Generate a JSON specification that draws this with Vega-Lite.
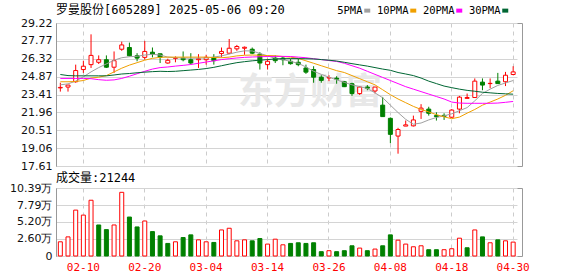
{
 "$schema": "https://vega.github.io/schema/vega-lite/v6.json",
 "autosize": {"type": "pad"},
 "padding": {"left": 9, "top": 3, "right": 0, "bottom": 0},
 "background": "white",
 "spacing": 22,
 "bounds": "flush",
 "datasets": {
  "wm": [{"d": "2025-03-21", "p": 23.54, "t": "东方财富"}],
  "k": [
   {"d":"2025-02-05","o":23.95,"h":24.37,"l":23.65,"c":23.99,"v":2.17,"vu":1,"ma5":24.20,"ma10":24.45,"ma20":24.72,"ma30":25.04},
   {"d":"2025-02-06","o":24.02,"h":24.20,"l":23.65,"c":24.18,"v":2.92,"vu":1,"ma5":24.28,"ma10":24.45,"ma20":24.72,"ma30":24.95},
   {"d":"2025-02-07","o":24.45,"h":25.84,"l":24.37,"c":25.36,"v":7.01,"vu":1,"ma5":24.50,"ma10":24.47,"ma20":24.72,"ma30":24.93},
   {"d":"2025-02-10","o":25.44,"h":26.16,"l":25.17,"c":25.71,"v":6.25,"vu":1,"ma5":24.85,"ma10":24.55,"ma20":24.72,"ma30":24.93},
   {"d":"2025-02-11","o":25.84,"h":28.30,"l":25.57,"c":26.59,"v":8.52,"vu":1,"ma5":25.25,"ma10":24.75,"ma20":24.70,"ma30":24.93},
   {"d":"2025-02-12","o":26.03,"h":26.59,"l":25.89,"c":26.24,"v":4.74,"vu":0,"ma5":25.60,"ma10":24.82,"ma20":24.62,"ma30":24.93},
   {"d":"2025-02-13","o":26.24,"h":26.59,"l":25.57,"c":25.63,"v":4.03,"vu":0,"ma5":25.90,"ma10":24.95,"ma20":24.57,"ma30":24.93},
   {"d":"2025-02-14","o":25.63,"h":26.91,"l":25.17,"c":26.16,"v":4.74,"vu":1,"ma5":26.20,"ma10":25.25,"ma20":24.60,"ma30":25.00},
   {"d":"2025-02-17","o":27.09,"h":27.71,"l":26.96,"c":27.44,"v":9.73,"vu":1,"ma5":26.40,"ma10":25.55,"ma20":24.72,"ma30":25.08},
   {"d":"2025-02-18","o":27.23,"h":27.63,"l":26.51,"c":26.56,"v":5.95,"vu":0,"ma5":26.48,"ma10":25.80,"ma20":24.90,"ma30":25.12},
   {"d":"2025-02-19","o":26.56,"h":26.77,"l":26.11,"c":26.37,"v":4.44,"vu":0,"ma5":26.52,"ma10":26.00,"ma20":25.10,"ma30":25.18},
   {"d":"2025-02-20","o":26.43,"h":27.76,"l":26.24,"c":26.91,"v":5.35,"vu":1,"ma5":26.62,"ma10":26.20,"ma20":25.30,"ma30":25.23},
   {"d":"2025-02-21","o":26.85,"h":27.23,"l":26.43,"c":26.69,"v":3.73,"vu":0,"ma5":26.68,"ma10":26.35,"ma20":25.48,"ma30":25.27},
   {"d":"2025-02-24","o":26.72,"h":26.72,"l":25.97,"c":26.45,"v":3.08,"vu":0,"ma5":26.62,"ma10":26.43,"ma20":25.60,"ma30":25.30},
   {"d":"2025-02-25","o":25.97,"h":26.32,"l":25.92,"c":26.19,"v":1.92,"vu":0,"ma5":26.45,"ma10":26.45,"ma20":25.65,"ma30":25.28},
   {"d":"2025-02-26","o":26.35,"h":26.51,"l":26.03,"c":26.38,"v":2.17,"vu":1,"ma5":26.40,"ma10":26.45,"ma20":25.72,"ma30":25.30},
   {"d":"2025-02-27","o":26.37,"h":26.91,"l":26.11,"c":26.24,"v":2.82,"vu":0,"ma5":26.38,"ma10":26.45,"ma20":25.78,"ma30":25.35},
   {"d":"2025-02-28","o":26.24,"h":26.77,"l":25.84,"c":25.97,"v":3.23,"vu":0,"ma5":26.36,"ma10":26.45,"ma20":25.85,"ma30":25.40},
   {"d":"2025-03-03","o":26.24,"h":26.69,"l":25.57,"c":26.32,"v":2.47,"vu":1,"ma5":26.37,"ma10":26.45,"ma20":25.95,"ma30":25.45},
   {"d":"2025-03-04","o":26.24,"h":26.64,"l":25.84,"c":26.43,"v":2.17,"vu":1,"ma5":26.38,"ma10":26.45,"ma20":26.05,"ma30":25.52},
   {"d":"2025-03-05","o":26.43,"h":26.69,"l":25.84,"c":26.16,"v":2.07,"vu":0,"ma5":26.45,"ma10":26.42,"ma20":26.15,"ma30":25.62},
   {"d":"2025-03-06","o":26.75,"h":27.23,"l":26.43,"c":26.91,"v":3.98,"vu":1,"ma5":26.55,"ma10":26.40,"ma20":26.25,"ma30":25.75},
   {"d":"2025-03-07","o":26.77,"h":27.92,"l":26.69,"c":27.17,"v":4.24,"vu":1,"ma5":26.70,"ma10":26.45,"ma20":26.32,"ma30":25.88},
   {"d":"2025-03-10","o":27.12,"h":27.44,"l":26.96,"c":27.31,"v":2.32,"vu":1,"ma5":26.85,"ma10":26.55,"ma20":26.38,"ma30":26.00},
   {"d":"2025-03-11","o":27.17,"h":27.31,"l":26.64,"c":27.25,"v":2.47,"vu":1,"ma5":26.96,"ma10":26.60,"ma20":26.43,"ma30":26.08},
   {"d":"2025-03-12","o":27.09,"h":27.23,"l":26.69,"c":26.77,"v":2.32,"vu":0,"ma5":26.95,"ma10":26.62,"ma20":26.46,"ma30":26.15},
   {"d":"2025-03-13","o":26.69,"h":26.85,"l":25.44,"c":25.97,"v":2.67,"vu":0,"ma5":26.75,"ma10":26.60,"ma20":26.48,"ma30":26.20},
   {"d":"2025-03-14","o":25.84,"h":26.32,"l":25.44,"c":26.11,"v":1.82,"vu":1,"ma5":26.55,"ma10":26.58,"ma20":26.50,"ma30":26.25},
   {"d":"2025-03-17","o":26.37,"h":26.59,"l":25.97,"c":26.16,"v":2.57,"vu":1,"ma5":26.35,"ma10":26.56,"ma20":26.51,"ma30":26.30},
   {"d":"2025-03-18","o":26.37,"h":26.51,"l":25.79,"c":26.24,"v":1.71,"vu":1,"ma5":26.25,"ma10":26.50,"ma20":26.51,"ma30":26.32},
   {"d":"2025-03-19","o":26.11,"h":26.32,"l":25.84,"c":25.92,"v":1.92,"vu":0,"ma5":26.10,"ma10":26.45,"ma20":26.50,"ma30":26.33},
   {"d":"2025-03-20","o":26.03,"h":26.32,"l":25.71,"c":25.84,"v":2.02,"vu":0,"ma5":25.95,"ma10":26.35,"ma20":26.45,"ma30":26.33},
   {"d":"2025-03-21","o":25.57,"h":25.84,"l":25.09,"c":25.23,"v":1.92,"vu":0,"ma5":25.65,"ma10":26.15,"ma20":26.40,"ma30":26.32},
   {"d":"2025-03-24","o":25.44,"h":25.71,"l":24.37,"c":24.82,"v":2.02,"vu":0,"ma5":25.30,"ma10":25.95,"ma20":26.32,"ma30":26.30},
   {"d":"2025-03-25","o":24.82,"h":24.98,"l":24.37,"c":24.56,"v":0.66,"vu":0,"ma5":25.05,"ma10":25.75,"ma20":26.25,"ma30":26.25},
   {"d":"2025-03-26","o":24.76,"h":24.98,"l":24.50,"c":24.78,"v":0.81,"vu":1,"ma5":24.82,"ma10":25.55,"ma20":26.17,"ma30":26.20},
   {"d":"2025-03-27","o":24.74,"h":24.90,"l":24.29,"c":24.66,"v":0.66,"vu":0,"ma5":24.60,"ma10":25.35,"ma20":26.10,"ma30":26.13},
   {"d":"2025-03-28","o":24.45,"h":24.50,"l":24.02,"c":24.05,"v":0.81,"vu":0,"ma5":24.40,"ma10":25.20,"ma20":25.95,"ma30":26.03},
   {"d":"2025-03-31","o":24.29,"h":24.37,"l":23.30,"c":23.49,"v":1.56,"vu":0,"ma5":24.20,"ma10":24.95,"ma20":25.75,"ma30":25.92},
   {"d":"2025-04-01","o":23.49,"h":24.10,"l":23.38,"c":24.02,"v":1.21,"vu":1,"ma5":24.05,"ma10":24.70,"ma20":25.55,"ma30":25.82},
   {"d":"2025-04-02","o":24.02,"h":24.18,"l":23.76,"c":23.92,"v":0.81,"vu":0,"ma5":23.90,"ma10":24.45,"ma20":25.30,"ma30":25.72},
   {"d":"2025-04-03","o":23.70,"h":24.02,"l":23.49,"c":24.02,"v":1.06,"vu":1,"ma5":23.55,"ma10":24.20,"ma20":25.05,"ma30":25.60},
   {"d":"2025-04-07","o":22.55,"h":23.22,"l":21.62,"c":21.62,"v":1.56,"vu":0,"ma5":23.15,"ma10":23.80,"ma20":24.80,"ma30":25.48},
   {"d":"2025-04-08","o":21.48,"h":21.55,"l":19.46,"c":20.18,"v":3.23,"vu":0,"ma5":22.55,"ma10":23.40,"ma20":24.55,"ma30":25.38},
   {"d":"2025-04-09","o":20.04,"h":20.71,"l":18.61,"c":20.57,"v":2.42,"vu":1,"ma5":21.95,"ma10":23.05,"ma20":24.30,"ma30":25.20},
   {"d":"2025-04-10","o":20.85,"h":21.30,"l":20.85,"c":20.95,"v":1.82,"vu":1,"ma5":21.40,"ma10":22.75,"ma20":24.05,"ma30":25.08},
   {"d":"2025-04-11","o":20.87,"h":21.70,"l":20.82,"c":21.35,"v":1.41,"vu":1,"ma5":21.00,"ma10":22.45,"ma20":23.85,"ma30":24.95},
   {"d":"2025-04-14","o":22.05,"h":22.63,"l":21.43,"c":22.31,"v":1.56,"vu":1,"ma5":21.10,"ma10":22.20,"ma20":23.65,"ma30":24.75},
   {"d":"2025-04-15","o":22.23,"h":22.42,"l":21.70,"c":21.89,"v":0.96,"vu":0,"ma5":21.35,"ma10":22.00,"ma20":23.45,"ma30":24.50},
   {"d":"2025-04-16","o":21.70,"h":21.97,"l":21.30,"c":21.62,"v":0.96,"vu":0,"ma5":21.55,"ma10":21.78,"ma20":23.25,"ma30":24.30},
   {"d":"2025-04-17","o":21.72,"h":21.89,"l":21.35,"c":21.64,"v":0.96,"vu":1,"ma5":21.68,"ma10":21.60,"ma20":23.05,"ma30":24.10},
   {"d":"2025-04-18","o":21.57,"h":22.23,"l":21.51,"c":22.15,"v":1.11,"vu":1,"ma5":21.85,"ma10":21.45,"ma20":22.80,"ma30":23.97},
   {"d":"2025-04-21","o":22.23,"h":23.30,"l":21.89,"c":23.20,"v":2.72,"vu":1,"ma5":22.10,"ma10":21.58,"ma20":22.72,"ma30":23.85},
   {"d":"2025-04-22","o":23.10,"h":23.49,"l":23.10,"c":23.17,"v":1.26,"vu":0,"ma5":22.35,"ma10":21.90,"ma20":22.70,"ma30":23.75},
   {"d":"2025-04-23","o":23.17,"h":24.72,"l":23.17,"c":24.50,"v":3.98,"vu":1,"ma5":22.90,"ma10":22.20,"ma20":22.70,"ma30":23.68},
   {"d":"2025-04-24","o":24.42,"h":24.72,"l":23.76,"c":24.18,"v":2.92,"vu":0,"ma5":23.50,"ma10":22.55,"ma20":22.70,"ma30":23.60},
   {"d":"2025-04-25","o":24.30,"h":24.72,"l":23.92,"c":24.32,"v":2.02,"vu":1,"ma5":23.85,"ma10":22.80,"ma20":22.70,"ma30":23.55},
   {"d":"2025-04-28","o":24.50,"h":25.17,"l":24.28,"c":24.30,"v":2.47,"vu":0,"ma5":24.15,"ma10":23.05,"ma20":22.72,"ma30":23.50},
   {"d":"2025-04-29","o":24.45,"h":25.25,"l":24.10,"c":24.98,"v":2.32,"vu":1,"ma5":24.35,"ma10":23.35,"ma20":22.78,"ma30":23.47},
   {"d":"2025-04-30","o":25.04,"h":25.71,"l":24.98,"c":25.25,"v":2.1244,"vu":1,"ma5":24.55,"ma10":23.72,"ma20":22.85,"ma30":23.44}
  ]
 },
 "config": {
  "view": {"stroke": "#999999", "strokeWidth": 1},
  "axis": {"domain": false, "ticks": false, "gridColor": "#d4d4d4", "gridWidth": 1, "labelFont": "DejaVu Sans", "labelFontSize": 11, "labelColor": "#111111", "labelPadding": 4, "labelOverlap": false}
 },
 "vconcat": [
  {
   "width": 466,
   "height": 143,
   "title": {"text": "罗曼股份[605289] 2025-05-06 09:20", "anchor": "start", "frame": "group", "offset": 0, "font": "DejaVu Sans Mono, Noto Sans CJK SC", "fontSize": 12, "fontWeight": "normal", "color": "#000000"},
   "encoding": {
    "x": {"field": "d", "type": "ordinal", "scale": {"type": "band", "range": [0.5, 461], "paddingInner": 0, "paddingOuter": 0},
      "axis": {"title": null, "values": ["2025-02-10","2025-02-20","2025-03-04","2025-03-14","2025-03-26","2025-04-08","2025-04-18","2025-04-30"], "bandPosition": 0.5, "labels": false, "grid": true, "gridDash": [4, 4], "gridColor": "#cccccc"}}
   },
   "layer": [
    {
     "data": {"name": "wm"},
     "mark": {"type": "text", "font": "Noto Sans CJK SC", "fontSize": 36, "fontWeight": "bold", "color": "#e8e8e8", "align": "center", "baseline": "middle", "dx": 4},
     "encoding": {
      "y": {"field": "p", "type": "quantitative", "scale": {"domain": [17.61, 29.22], "nice": false, "zero": false}, "axis": {"title": null, "values": [17.61, 19.06, 20.51, 21.96, 23.41, 24.87, 26.32, 27.77, 29.22], "format": ".2f", "grid": true, "labelOverlap": false}},
      "text": {"field": "t"}
     }
    },
    {
     "data": {"name": "k"},
     "mark": {"type": "rule", "strokeWidth": 1},
     "encoding": {
      "y": {"field": "l", "type": "quantitative", "scale": {"domain": [17.61, 29.22], "nice": false, "zero": false}, "axis": {"title": null, "values": [17.61, 19.06, 20.51, 21.96, 23.41, 24.87, 26.32, 27.77, 29.22], "format": ".2f", "grid": true, "labelOverlap": false}},
      "y2": {"field": "h"},
      "stroke": {"condition": {"test": "datum.c >= datum.o", "value": "#ff0000"}, "value": "#008000"}
     }
    },
    {
     "data": {"name": "k"},
     "mark": {"type": "bar", "size": 4, "strokeWidth": 1},
     "encoding": {
      "y": {"field": "o", "type": "quantitative", "scale": {"domain": [17.61, 29.22], "nice": false, "zero": false}, "axis": {"title": null, "values": [17.61, 19.06, 20.51, 21.96, 23.41, 24.87, 26.32, 27.77, 29.22], "format": ".2f", "grid": true, "labelOverlap": false}},
      "y2": {"field": "c"},
      "fill": {"condition": {"test": "datum.c >= datum.o", "value": "#ffffff"}, "value": "#008000"},
      "stroke": {"condition": {"test": "datum.c >= datum.o", "value": "#ff0000"}, "value": "#008000"}
     }
    },
    {
     "data": {"name": "k"},
     "transform": [{"fold": ["ma5", "ma10", "ma20", "ma30"], "as": ["key", "val"]}],
     "mark": {"type": "line", "strokeWidth": 1},
     "encoding": {
      "y": {"field": "val", "type": "quantitative", "scale": {"domain": [17.61, 29.22], "nice": false, "zero": false}, "axis": {"title": null, "values": [17.61, 19.06, 20.51, 21.96, 23.41, 24.87, 26.32, 27.77, 29.22], "format": ".2f", "grid": true, "labelOverlap": false}},
      "color": {"field": "key", "type": "nominal",
       "scale": {"domain": ["ma5", "ma10", "ma20", "ma30"], "range": ["#a0a0a0", "#f0a000", "#ff00ff", "#006633"]},
       "legend": {"orient": "none", "legendX": 306, "legendY": -18, "direction": "horizontal", "title": null,
        "symbolType": "stroke", "symbolSize": 36, "symbolStrokeWidth": 4,
        "labelAlign": "right", "labelOffset": -10, "columnPadding": -3,
        "labelFont": "DejaVu Sans Mono", "labelFontSize": 10.5, "labelColor": "#000000",
        "labelExpr": "replace(datum.label, 'ma', '') + 'PMA'"}}
     }
    }
   ]
  },
  {
   "width": 466,
   "height": 68,
   "title": {"text": "成交量:21244", "anchor": "start", "frame": "group", "offset": -3, "font": "DejaVu Sans Mono, Noto Sans CJK SC", "fontSize": 12, "fontWeight": "normal", "color": "#000000"},
   "data": {"name": "k"},
   "mark": {"type": "bar", "size": 4, "strokeWidth": 1},
   "encoding": {
    "x": {"field": "d", "type": "ordinal", "scale": {"type": "band", "range": [0.5, 461], "paddingInner": 0, "paddingOuter": 0},
      "axis": {"title": null, "values": ["2025-02-10","2025-02-20","2025-03-04","2025-03-14","2025-03-26","2025-04-08","2025-04-18","2025-04-30"], "bandPosition": 0.5, "labelExpr": "slice(datum.value, 5)", "labelAngle": 0, "labelColor": "#ff0000", "labelFont": "DejaVu Sans Mono", "labelFontSize": 11, "labelPadding": 5, "labelOverlap": false, "grid": true, "gridDash": [4, 4], "gridColor": "#cccccc"}},
    "y": {"field": "v", "type": "quantitative", "scale": {"domain": [0, 10.39], "nice": false}, "axis": {"title": null, "values": [0, 2.6, 5.2, 7.79, 10.39], "labelExpr": "datum.value == 0 ? '0' : format(datum.value, '.2f') + '万'", "grid": true}},
    "fill": {"condition": {"test": "datum.vu == 1", "value": "#ffffff"}, "value": "#008000"},
    "stroke": {"condition": {"test": "datum.vu == 1", "value": "#ff0000"}, "value": "#008000"}
   }
  }
 ]
}
